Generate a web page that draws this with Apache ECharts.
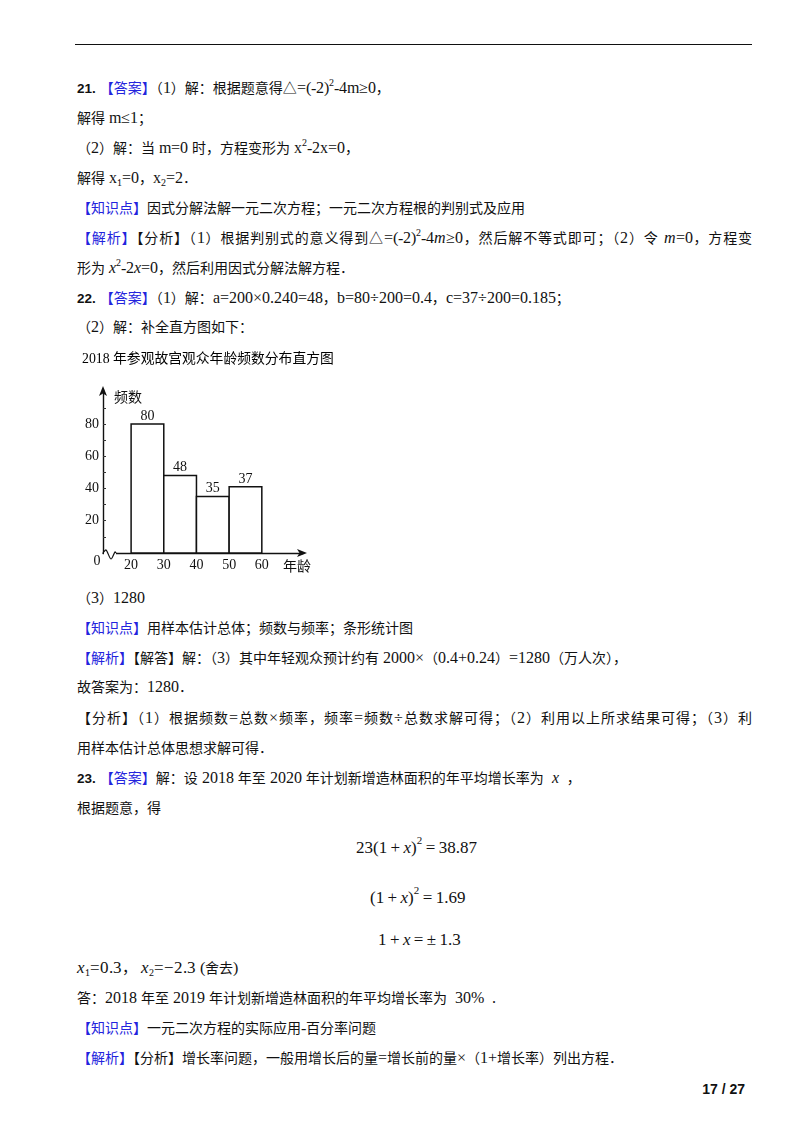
<!DOCTYPE html>
<html>
<head>
<meta charset="utf-8">
<script src="https://cdn.jsdelivr.net/npm/echarts@6/dist/echarts.min.js"></script>
<style>
@font-face{font-family:"LatinSerif";src:local("Liberation Serif"),local("LiberationSerif");font-style:normal;font-weight:normal;size-adjust:111%;}
@font-face{font-family:"LatinSerif";src:local("Liberation Serif Italic"),local("LiberationSerif-Italic");font-style:italic;font-weight:normal;size-adjust:111%;}
html,body{margin:0;padding:0;background:#fff;}
body{width:800px;height:1132px;position:relative;overflow:hidden;
  font-family:"LatinSerif","Liberation Serif","Noto Sans CJK SC",serif;font-size:14px;color:#111;}
.rule{position:absolute;left:75px;top:44px;width:677px;height:0;border-top:1.6px solid #111;}
.ln{position:absolute;left:77px;height:20px;line-height:20px;white-space:nowrap;}
.full{width:675px;text-align:justify;text-align-last:justify;}
.blue{color:#2323dd;}
.num{font-family:"Liberation Sans","DejaVu Sans",sans-serif;font-weight:bold;font-size:13.5px;margin-right:4px;}
sup{font-size:9px;vertical-align:7px;line-height:0;}
sub{font-size:9px;vertical-align:-3px;line-height:0;}
i{font-style:italic;}
.eq{position:absolute;font-family:"Liberation Serif",serif;font-size:17px;white-space:nowrap;height:24px;line-height:24px;}
.eq sup{font-size:11px;vertical-align:9px;}
.pg{position:absolute;right:55px;top:1081px;font-family:"Liberation Sans",sans-serif;font-weight:bold;font-size:14px;}
#chart{position:absolute;left:60px;top:340px;width:300px;height:245px;}
</style>
</head>
<body>
<div class="rule"></div>

<div class="ln" style="top:78px"><span class="num">21.</span><span class="blue">【答案】</span>（1）解：根据题意得△=(-2)<sup>2</sup>-4m≥0，</div>
<div class="ln" style="top:108px">解得 m≤1；</div>
<div class="ln" style="top:138px">（2）解：当 m=0 时，方程变形为 x<sup>2</sup>-2x=0，</div>
<div class="ln" style="top:168px">解得 x<sub>1</sub>=0，x<sub>2</sub>=2．</div>
<div class="ln" style="top:198px"><span class="blue">【知识点】</span>因式分解法解一元二次方程；一元二次方程根的判别式及应用</div>
<div class="ln full" style="top:228px"><span class="blue">【解析】</span>【分析】（1）根据判别式的意义得到△=(-2)<sup>2</sup>-4<i>m</i>≥0，然后解不等式即可；（2）令 <i>m</i>=0，方程变</div>
<div class="ln" style="top:258px">形为 <i>x</i><sup>2</sup>-2<i>x</i>=0，然后利用因式分解法解方程．</div>
<div class="ln" style="top:288px"><span class="num">22.</span><span class="blue">【答案】</span>（1）解：a=200×0.240=48，b=80÷200=0.4，c=37÷200=0.185；</div>
<div class="ln" style="top:317px">（2）解：补全直方图如下：</div>

<div id="chart"></div>

<div class="ln" style="top:588px">（3）1280</div>
<div class="ln" style="top:618px"><span class="blue">【知识点】</span>用样本估计总体；频数与频率；条形统计图</div>
<div class="ln" style="top:648px"><span class="blue">【解析】</span>【解答】解：（3）其中年轻观众预计约有 2000×（0.4+0.24）=1280（万人次），</div>
<div class="ln" style="top:677px">故答案为：1280．</div>
<div class="ln full" style="top:708px">【分析】（1）根据频数=总数×频率，频率=频数÷总数求解可得；（2）利用以上所求结果可得；（3）利</div>
<div class="ln" style="top:738px">用样本估计总体思想求解可得．</div>
<div class="ln" style="top:768px"><span class="num">23.</span><span class="blue">【答案】</span>解：设 2018 年至 2020 年计划新增造林面积的年平均增长率为 &nbsp;<i>x</i>&nbsp; ，</div>
<div class="ln" style="top:798px">根据题意，得</div>

<div class="eq" style="left:356px;top:836px">23(1&thinsp;+&thinsp;<i>x</i>)<sup>2</sup>&thinsp;=&thinsp;38.87</div>
<div class="eq" style="left:370px;top:886px">(1&thinsp;+&thinsp;<i>x</i>)<sup>2</sup>&thinsp;=&thinsp;1.69</div>
<div class="eq" style="left:378px;top:928px">1&thinsp;+&thinsp;<i>x</i>&thinsp;=&thinsp;±&thinsp;1.3</div>

<div class="ln" style="top:958px;font-size:15px"><i>x</i><sub>1</sub>=0.3， <i>x</i><sub>2</sub>=−2.3 <span style="font-size:14px">(舍去)</span></div>
<div class="ln" style="top:988px">答：2018 年至 2019 年计划新增造林面积的年平均增长率为 &nbsp;30% &nbsp;.</div>
<div class="ln" style="top:1018px"><span class="blue">【知识点】</span>一元二次方程的实际应用-百分率问题</div>
<div class="ln" style="top:1048px"><span class="blue">【解析】</span>【分析】增长率问题，一般用增长后的量=增长前的量×（1+增长率）列出方程．</div>

<div class="pg">17 / 27</div>

<script>
// ---- chart data ----
var chartTitle = '2018 年参观故宫观众年龄频数分布直方图';
var binStarts = [20, 30, 40, 50];
var binEnds = [30, 40, 50, 60];
var barHeights = [80, 48, 35, 41];        // heights as drawn in the picture
var barLabels = ['80', '48', '35', '37']; // numbers written above the bars
var xTickLabels = [20, 30, 40, 50, 60];
var yTickLabels = [20, 40, 60, 80];
var yMinorTicks = [10, 20, 30, 40, 50, 60, 70, 80, 90];
var xAxisName = '年龄';
var yAxisName = '频数';
var originLabel = '0';

var xMin = 11.4, xMax = 72.6, yMin = 0, yMax = 101;

var seriesData = binStarts.map(function (s, i) { return [s, binEnds[i], barHeights[i]]; });

var serif = '"Liberation Serif", "Noto Sans CJK SC", serif';
var cjk = '"Noto Sans CJK SC", sans-serif';

var chart = echarts.init(document.getElementById('chart'), null, { renderer: 'canvas' });
var option = {
  animation: false,
  title: {
    text: chartTitle, left: 17, top: 7,
    textStyle: { fontFamily: serif, fontSize: 13.8, fontWeight: 'normal', color: '#000' }
  },
  grid: { left: 43, right: 57, top: 50, bottom: 32 },
  xAxis: {
    type: 'value', min: xMin, max: xMax,
    name: xAxisName, nameLocation: 'end', nameGap: -6,
    nameTextStyle: { fontFamily: cjk, fontSize: 14, color: '#111', align: 'center', verticalAlign: 'top', padding: [6, 0, 0, 0] },
    axisLine: { show: true, lineStyle: { color: '#111', width: 1.4 }, symbol: ['none', 'arrow'], symbolSize: [6, 10], symbolOffset: [0, 4] },
    axisTick: { show: false },
    splitLine: { show: false },
    axisLabel: { customValues: xTickLabels, margin: 5, fontFamily: serif, fontSize: 14, color: '#111' }
  },
  yAxis: {
    type: 'value', min: yMin, max: yMax,
    name: yAxisName, nameLocation: 'end', nameGap: 0,
    nameTextStyle: { fontFamily: cjk, fontSize: 14, color: '#111', align: 'left', verticalAlign: 'top', padding: [0, 0, 0, 11] },
    axisLine: { show: true, lineStyle: { color: '#111', width: 1.4 }, symbol: ['none', 'arrow'], symbolSize: [6, 10], symbolOffset: [0, 4] },
    axisTick: { show: true, inside: true, length: 3, customValues: yMinorTicks, lineStyle: { color: '#333', width: 1 } },
    splitLine: { show: false },
    axisLabel: { customValues: yTickLabels, margin: 4, fontFamily: serif, fontSize: 14, color: '#111' }
  },
  series: [{
    type: 'custom',
    data: seriesData,
    renderItem: function (params, api) {
      var p0 = api.coord([api.value(0), 0]);
      var p1 = api.coord([api.value(1), api.value(2)]);
      return {
        type: 'group',
        children: [
          { type: 'rect', shape: { x: p0[0], y: p1[1], width: p1[0] - p0[0], height: p0[1] - p1[1] },
            style: { fill: '#fff', stroke: '#111', lineWidth: 1.5 } },
          { type: 'text', style: { text: barLabels[params.dataIndex], x: (p0[0] + p1[0]) / 2, y: p1[1] - 1,
            align: 'center', verticalAlign: 'bottom', fontFamily: serif, fontSize: 14, fill: '#111' } }
        ]
      };
    },
    encode: { x: [0, 1], y: 2 }
  }]
};
chart.setOption(option);

// axis break mark and origin label, placed from the axis scale
var o = chart.convertToPixel({ gridIndex: 0 }, [xMin, 0]);
chart.setOption({
  graphic: [
    { type: 'rect', z: 100, shape: { x: o[0] + 1, y: o[1] - 2, width: 12, height: 4 }, style: { fill: '#fff' } },
    { type: 'polyline', z: 101, shape: { points: [[o[0], o[1]], [o[0] + 3, o[1] - 3], [o[0] + 8, o[1] + 6], [o[0] + 12, o[1] - 1], [o[0] + 13, o[1]]], smooth: 0.3 },
      style: { stroke: '#111', lineWidth: 1.2, fill: null } },
    { type: 'text', z: 101, style: { text: originLabel, x: o[0] - 6, y: o[1] + 8, align: 'center', verticalAlign: 'middle',
      fontFamily: serif, fontSize: 14, fill: '#111' } }
  ]
});
</script>
</body>
</html>
